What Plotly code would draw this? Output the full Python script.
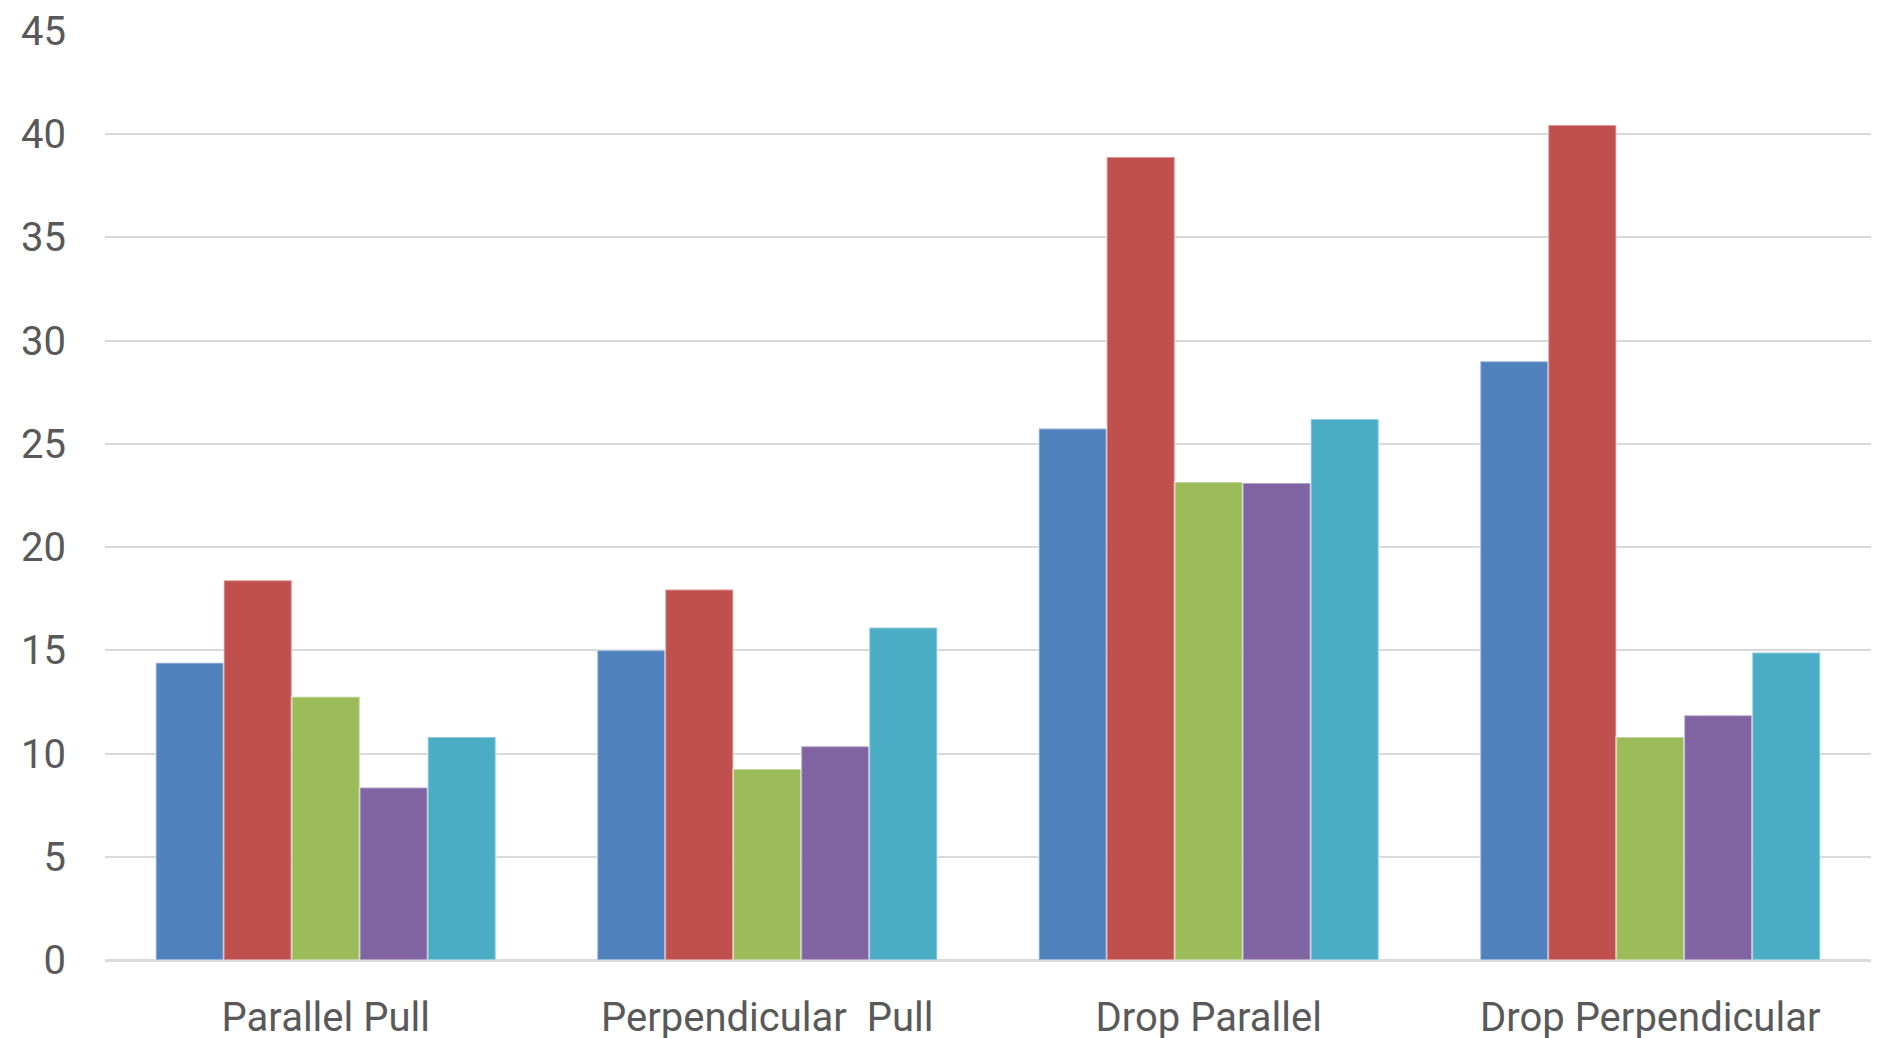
import plotly.graph_objects as go

# Test categories and the five measured series per category
categories = ["Parallel Pull", "Perpendicular  Pull", "Drop Parallel", "Drop Perpendicular"]
series_1 = [14.4, 15.0, 25.75, 29.0]
series_2 = [18.4, 17.95, 38.9, 40.45]
series_3 = [12.75, 9.25, 23.15, 10.8]
series_4 = [8.35, 10.35, 23.1, 11.85]
series_5 = [10.8, 16.1, 26.2, 14.9]
series_names = ["Series 1", "Series 2", "Series 3", "Series 4", "Series 5"]
y_ticks = [0, 5, 10, 15, 20, 25, 30, 35, 40, 45]

colors = ["#4F81BD", "#C0504D", "#9BBB59", "#8064A2", "#4BACC6"]
all_series = [series_1, series_2, series_3, series_4, series_5]

font_family = "Roboto, Liberation Sans, sans-serif"

fig = go.Figure()
for name, values, color in zip(series_names, all_series, colors):
    fig.add_trace(go.Bar(
        name=name,
        x=categories,
        y=values,
        marker=dict(color=color, line=dict(color="rgba(255,255,255,0.4)", width=2)),
    ))

fig.update_layout(
    width=1878,
    height=1038,
    margin=dict(l=105, r=7, t=31, b=78),
    paper_bgcolor="white",
    plot_bgcolor="white",
    barmode="group",
    bargap=0.23,
    bargroupgap=0,
    showlegend=False,
    font=dict(family=font_family, color="#595959", size=40),
)
fig.update_xaxes(
    automargin=False,
    showgrid=False,
    showline=False,
    zeroline=False,
    ticks="",
    ticklabelstandoff=30,
    tickfont=dict(family=font_family, size=40, color="#595959"),
)
fig.update_yaxes(
    automargin=False,
    range=[0, 45],
    tickvals=y_ticks,
    showgrid=True,
    gridcolor="#D9D9D9",
    gridwidth=2,
    zeroline=True,
    zerolinecolor="#D9D9D9",
    zerolinewidth=2.5,
    showline=False,
    ticks="",
    ticklabelstandoff=38,
    tickfont=dict(family=font_family, size=40, color="#595959"),
)

fig.write_html("out.html")
